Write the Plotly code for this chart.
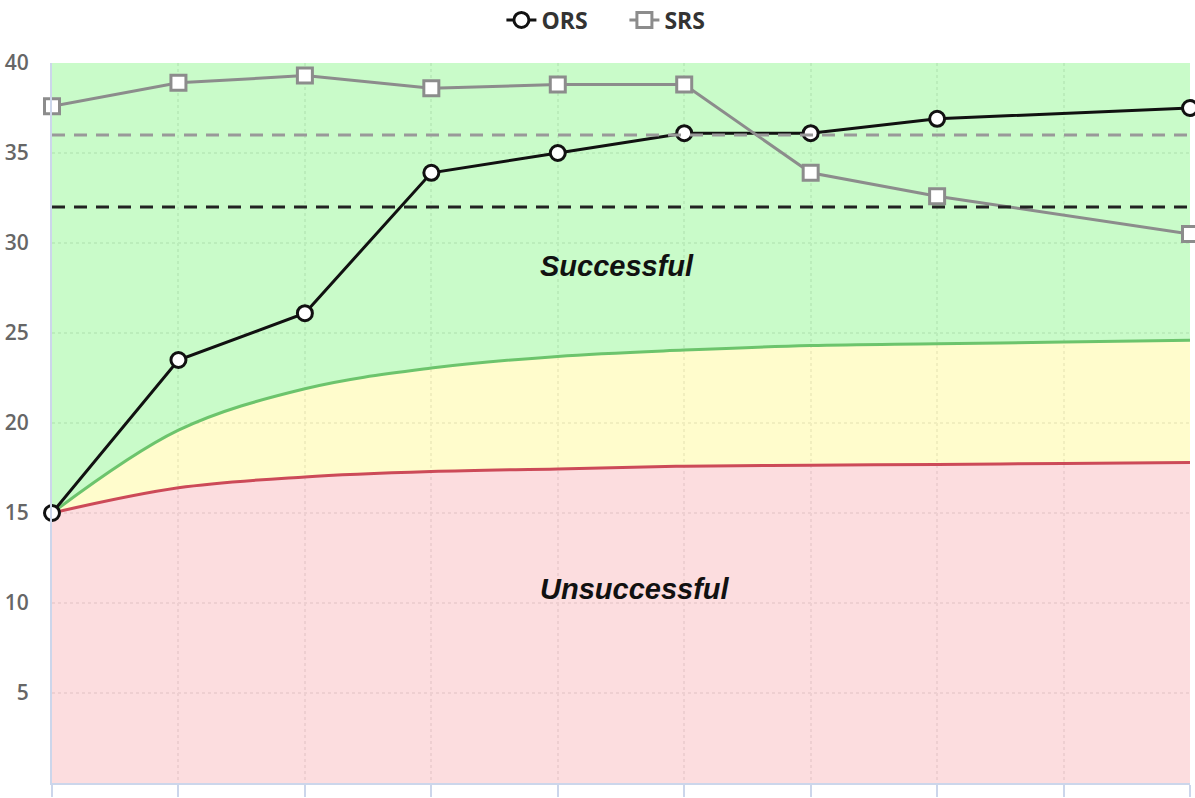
import plotly.graph_objects as go

# ---- data ----
ors_x = [0, 1, 2, 3, 4, 5, 6, 7, 9]
ors_y = [15.0, 23.5, 26.1, 33.9, 35.0, 36.1, 36.1, 36.9, 37.5]
srs_x = [0, 1, 2, 3, 4, 5, 6, 7, 9]
srs_y = [37.6, 38.9, 39.3, 38.6, 38.8, 38.8, 33.9, 32.6, 30.5]

band_x = [0, 1, 2, 3, 4, 5, 6, 7, 8, 9]
green_curve = [15.0, 19.6, 21.9, 23.05, 23.7, 24.05, 24.3, 24.4, 24.5, 24.6]
red_curve = [15.0, 16.4, 17.0, 17.3, 17.45, 17.6, 17.65, 17.7, 17.75, 17.8]
top_bound = [40] * len(band_x)

ors_cutoff = 32
srs_cutoff = 36

y_ticks = [5, 10, 15, 20, 25, 30, 35, 40]
x_ticks = list(range(10))

fig = go.Figure()

# Unsuccessful (red) zone
fig.add_trace(go.Scatter(x=band_x, y=red_curve, mode="lines", line=dict(color="#cc4a58", width=3, shape="spline"),
                         fill="tozeroy", fillcolor="rgba(251,206,209,0.7)", showlegend=False, hoverinfo="skip"))
# Yellow zone
fig.add_trace(go.Scatter(x=band_x, y=green_curve, mode="lines", line=dict(color="#6cc46c", width=3, shape="spline"),
                         fill="tonexty", fillcolor="rgba(255,251,182,0.7)", showlegend=False, hoverinfo="skip"))
# Green zone
fig.add_trace(go.Scatter(x=band_x, y=top_bound, mode="lines", line=dict(color="rgba(0,0,0,0)", width=0),
                         fill="tonexty", fillcolor="rgba(178,249,178,0.7)", showlegend=False, hoverinfo="skip"))

# cutoff lines
fig.add_hline(y=srs_cutoff, line=dict(color="#999999", width=3, dash="13px,9px"))
fig.add_hline(y=ors_cutoff, line=dict(color="#222222", width=3, dash="13px,9px"))

fig.add_trace(go.Scatter(x=ors_x, y=ors_y, name="ORS", mode="lines+markers",
                         line=dict(color="#111111", width=3),
                         marker=dict(symbol="circle", size=15, color="white", line=dict(color="#111111", width=3)),
                         cliponaxis=False))
fig.add_trace(go.Scatter(x=srs_x, y=srs_y, name="SRS", mode="lines+markers",
                         line=dict(color="#8c8c8c", width=3),
                         marker=dict(symbol="square", size=15, color="white", line=dict(color="#8c8c8c", width=3)),
                         cliponaxis=False))

fig.add_annotation(x=4.47, y=28.7, text="<b><i>Successful</i></b>", showarrow=False,
                   font=dict(family="Liberation Sans, Arial, sans-serif", size=29, color="#111111"))
fig.add_annotation(x=4.61, y=10.8, text="<b><i>Unsuccessful</i></b>", showarrow=False,
                   font=dict(family="Liberation Sans, Arial, sans-serif", size=29, color="#111111"))

fig.update_layout(
    width=1195, height=798,
    margin=dict(l=52, r=5, t=63, b=15, autoexpand=False),
    paper_bgcolor="white", plot_bgcolor="white",
    font=dict(family="Open Sans, sans-serif", size=18, color="#666666"),
    legend=dict(orientation="h", x=0.503, xanchor="center", yref="container", y=0.975, yanchor="middle",
                traceorder="normal", entrywidth=78,
                font=dict(size=23, color="#333333", weight=700), itemwidth=30, bgcolor="rgba(0,0,0,0)"),
    showlegend=True,
)

fig.update_xaxes(range=[0, 9], tickvals=x_ticks, showticklabels=False, ticks="outside", ticklen=12,
                 tickcolor="#ccd6eb", tickwidth=2, showline=True, linecolor="#ccd6eb", linewidth=2,
                 showgrid=True, gridcolor="#cfcfcf", griddash="dot", gridwidth=1.5, zeroline=False,
                 automargin=False)
fig.update_yaxes(range=[0, 40], tickvals=y_ticks, ticks="", ticklabelstandoff=17,
                 tickfont=dict(size=21, color="#666666", weight=600),
                 showline=True, linecolor="#ccd6eb", linewidth=2,
                 showgrid=True, gridcolor="#cfcfcf", griddash="dot", gridwidth=1.5, zeroline=False,
                 automargin=False)

fig.write_html("out.html", config={"displayModeBar": False},
               post_script="document.body.style.margin='0';document.body.style.overflow='hidden';")
